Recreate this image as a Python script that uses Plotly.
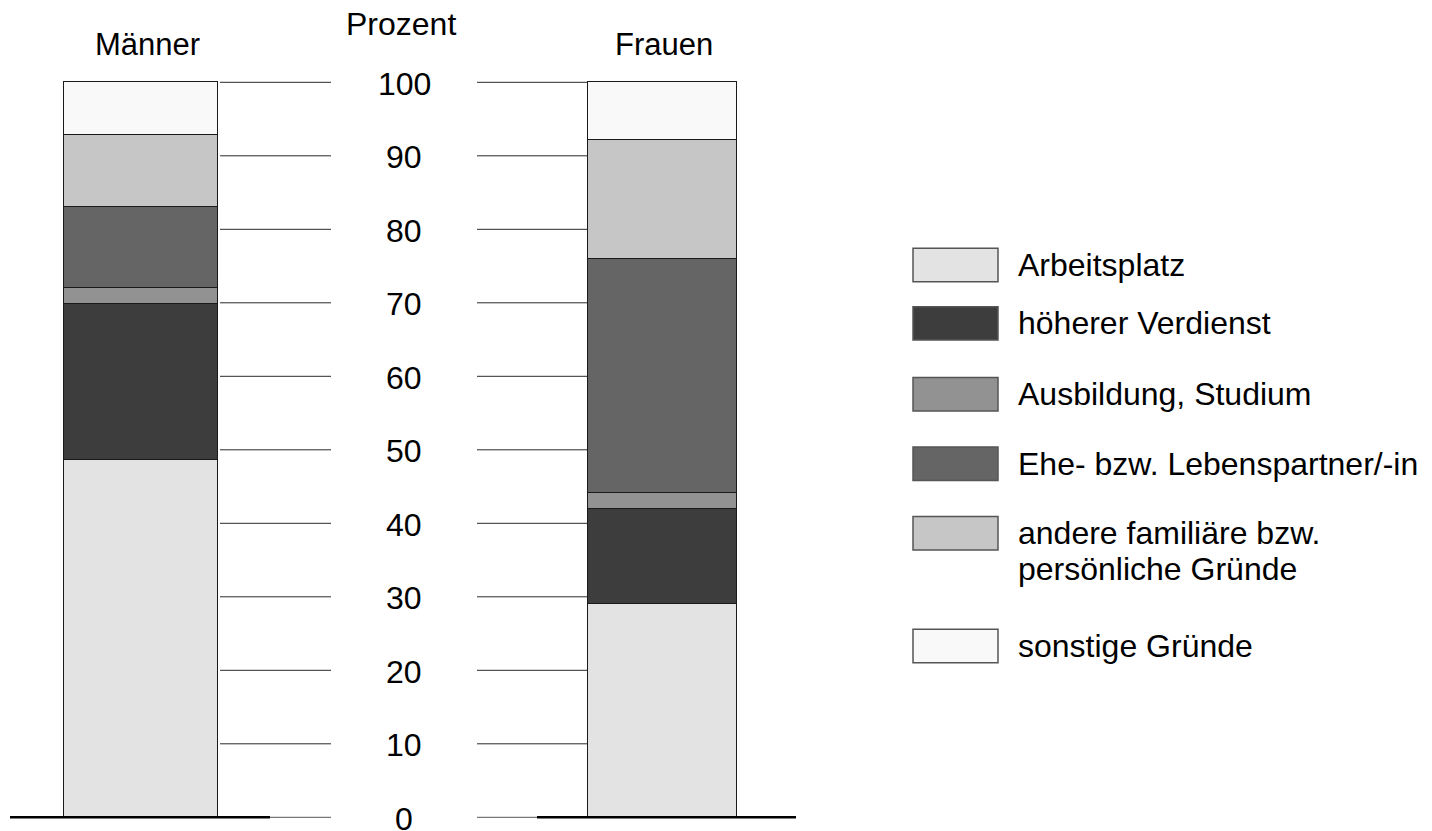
import plotly.graph_objects as go

# ---------------- data ----------------
groups = ["Männer", "Frauen"]
reasons = [
    "Arbeitsplatz",
    "höherer Verdienst",
    "Ausbildung, Studium",
    "Ehe- bzw. Lebenspartner/-in",
    "andere familiäre bzw. persönliche Gründe",
    "sonstige Gründe",
]
maenner = [48.6, 21.2, 2.2, 11.1, 9.7, 7.2]
frauen = [29.0, 12.9, 2.2, 31.9, 16.1, 7.9]
y_ticks = [0, 10, 20, 30, 40, 50, 60, 70, 80, 90, 100]
axis_title = "Prozent"

# ---------------- styles / layout ----------------
colors = ["#e3e3e3", "#3d3d3d", "#929292", "#656565", "#c6c6c6", "#f9f9f9"]
legend_lines = [
    ["Arbeitsplatz"],
    ["höherer Verdienst"],
    ["Ausbildung, Studium"],
    ["Ehe- bzw. Lebenspartner/-in"],
    ["andere familiäre bzw.", "persönliche Gründe"],
    ["sonstige Gründe"],
]
FONT = "Liberation Sans, Arial, Helvetica, sans-serif"
W, H = 1432, 831
PX_PER_UNIT = 7.35
Y0_PX = 817.3
ymin = -(H - Y0_PX) / PX_PER_UNIT
ymax = Y0_PX / PX_PER_UNIT

bar_centers = [141.0, 662.4]
bar_widths = [153.4, 149.3]
title_x = [147.5, 664.0]

fig = go.Figure()
values = [maenner, frauen]
for i, r in enumerate(reasons):
    fig.add_trace(go.Bar(
        x=bar_centers,
        y=[values[0][i], values[1][i]],
        width=bar_widths,
        name=r,
        marker=dict(color=colors[i], line=dict(color="#1a1a1a", width=1.2)),
        showlegend=False,
        hovertemplate=r + ": %{y}%<extra></extra>",
    ))

shapes = []
annotations = []

# grid lines
for v in y_ticks:
    if v == 0:
        continue
    for x0, x1 in [(220, 331), (477, 587)]:
        shapes.append(dict(type="line", xref="x", yref="y", x0=x0, x1=x1, y0=v, y1=v,
                           line=dict(color="#2a2a2a", width=1)))

# baselines
shapes.append(dict(type="line", xref="x", yref="y", x0=10, x1=270, y0=0, y1=0,
                   line=dict(color="#000000", width=2.6)))
shapes.append(dict(type="line", xref="x", yref="y", x0=270, x1=331, y0=0, y1=0,
                   line=dict(color="#555555", width=1)))
shapes.append(dict(type="line", xref="x", yref="y", x0=477, x1=537, y0=0, y1=0,
                   line=dict(color="#555555", width=1)))
shapes.append(dict(type="line", xref="x", yref="y", x0=537, x1=796, y0=0, y1=0,
                   line=dict(color="#000000", width=2.6)))

# tick labels
for v in y_ticks:
    annotations.append(dict(x=404, y=v, xref="x", yref="y", text=str(v), showarrow=False,
                            xanchor="center", yanchor="middle", yshift=-1.5,
                            height=26, valign="middle", borderpad=0,
                            font=dict(family=FONT, size=32, color="#000000")))

# headings
annotations.append(dict(x=401, y=1 - 24 / H, xref="x", yref="paper", text=axis_title,
                        showarrow=False, xanchor="center", yanchor="middle",
                        font=dict(family=FONT, size=32, color="#000000")))
for g, tx in zip(groups, title_x):
    annotations.append(dict(x=tx, y=1 - 45 / H, xref="x", yref="paper", text=g,
                            showarrow=False, xanchor="center", yanchor="middle",
                            font=dict(family=FONT, size=31, color="#000000")))

# custom legend
box_tops = [248.3, 306.7, 377.6, 447.0, 516.6, 629.3]
box_h = 33.4
line_step = 36
for i, top in enumerate(box_tops):
    shapes.append(dict(type="rect", xref="x", yref="paper", x0=913, x1=998,
                       y0=1 - (top + box_h) / H, y1=1 - top / H,
                       fillcolor=colors[i], line=dict(color="#555555", width=1.5)))
    cy = top + box_h / 2
    for k, line_txt in enumerate(legend_lines[i]):
        annotations.append(dict(x=1016, y=1 - (cy + k * line_step) / H, xref="x", yref="paper",
                                text=line_txt, showarrow=False, align="left",
                                xanchor="left", yanchor="middle",
                                font=dict(family=FONT, size=32, color="#000000")))

fig.update_layout(
    width=W, height=H,
    margin=dict(l=0, r=0, t=0, b=0),
    paper_bgcolor="#ffffff", plot_bgcolor="#ffffff",
    barmode="stack", bargap=0,
    xaxis=dict(range=[0, W], visible=False, fixedrange=True),
    yaxis=dict(range=[ymin, ymax], visible=False, fixedrange=True),
    shapes=shapes, annotations=annotations,
    showlegend=False,
)

fig.write_html("out.html", config={"displayModeBar": False},
               post_script="document.body.style.margin='0';")
